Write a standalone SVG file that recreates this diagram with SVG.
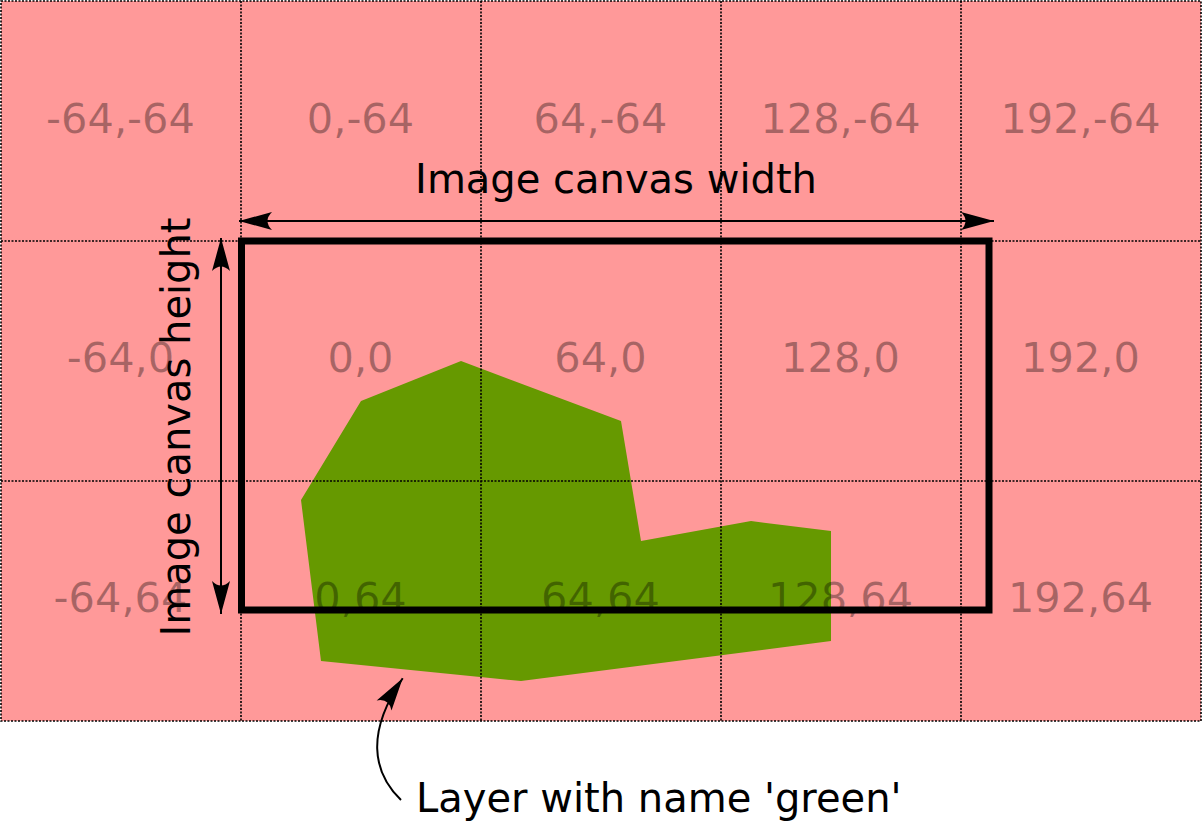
<svg xmlns="http://www.w3.org/2000/svg" width="1202" height="821" viewBox="0 0 1202 821">
  <style>
    .grid { fill: none; stroke: #000; stroke-width: 1.6; stroke-dasharray: 2 1.5; }
    .coord { font-family: "DejaVu Sans", Verdana, sans-serif; font-size: 41.5px; fill: #000; fill-opacity: 0.34; text-anchor: middle; }
    .label { font-family: "DejaVu Sans", Verdana, sans-serif; font-size: 40px; fill: #000; }
    .conn { fill: none; stroke: #000; stroke-width: 2; }
  </style>
  <defs>
    <marker id="ah" markerUnits="userSpaceOnUse" viewBox="-36 -12 40 24" markerWidth="40" markerHeight="24" refX="0" refY="0" orient="auto-start-reverse" overflow="visible">
      <path d="M0,0 L-33,-9 Q-24,0 -33,9 Z" fill="#000"/>
    </marker>
  </defs>
  <rect width="1202" height="821" fill="#fff"/>
  <g id="background">
    <rect x="1" y="1" width="1200" height="720" fill="#ff9999"/>
  </g>
  <g id="layer-green">
    <polygon points="301,500 361,401 461,361 621,421 641,541 751,521 831,531 831,641 521,681 321,661" fill="#669900"/>
  </g>
  <g id="grid">
    <rect class="grid" x="1" y="1" width="1200" height="720"/>
    <line class="grid" x1="241" y1="1" x2="241" y2="721"/>
    <line class="grid" x1="481" y1="1" x2="481" y2="721"/>
    <line class="grid" x1="721" y1="1" x2="721" y2="721"/>
    <line class="grid" x1="961" y1="1" x2="961" y2="721"/>
    <line class="grid" x1="1" y1="241" x2="1201" y2="241"/>
    <line class="grid" x1="1" y1="481" x2="1201" y2="481"/>
  </g>
  <g id="coords">
    <text class="coord" x="120.5" y="133">-64,-64</text>
    <text class="coord" x="360.5" y="133">0,-64</text>
    <text class="coord" x="600.5" y="133">64,-64</text>
    <text class="coord" x="840.5" y="133">128,-64</text>
    <text class="coord" x="1080.5" y="133">192,-64</text>
    <text class="coord" x="120.5" y="372">-64,0</text>
    <text class="coord" x="360.5" y="372">0,0</text>
    <text class="coord" x="600.5" y="372">64,0</text>
    <text class="coord" x="840.5" y="372">128,0</text>
    <text class="coord" x="1080.5" y="372">192,0</text>
    <text class="coord" x="120.5" y="612">-64,64</text>
    <text class="coord" x="360.5" y="612">0,64</text>
    <text class="coord" x="600.5" y="612">64,64</text>
    <text class="coord" x="840.5" y="612">128,64</text>
    <text class="coord" x="1080.5" y="612">192,64</text>
  </g>
  <g id="image-canvas">
    <rect x="241.5" y="241" width="747.5" height="369" fill="none" stroke="#000" stroke-width="7"/>
  </g>
  <g id="connectors">
    <line class="conn" x1="239" y1="221" x2="994" y2="221" marker-start="url(#ah)" marker-end="url(#ah)"/>
    <line class="conn" x1="221" y1="238" x2="221" y2="614" marker-start="url(#ah)" marker-end="url(#ah)"/>
    <path class="conn" d="M401,800 C372,772 366,732 402.7,678.3" marker-end="url(#ah)"/>
  </g>
  <g id="label-width">
    <text class="label" x="616" y="193" text-anchor="middle">Image canvas width</text>
  </g>
  <g id="label-height">
    <text class="label" transform="translate(190,427) rotate(-90)" text-anchor="middle">Image canvas height</text>
  </g>
  <g id="label-layer">
    <text class="label" x="416" y="812">Layer with name 'green'</text>
  </g>
</svg>
